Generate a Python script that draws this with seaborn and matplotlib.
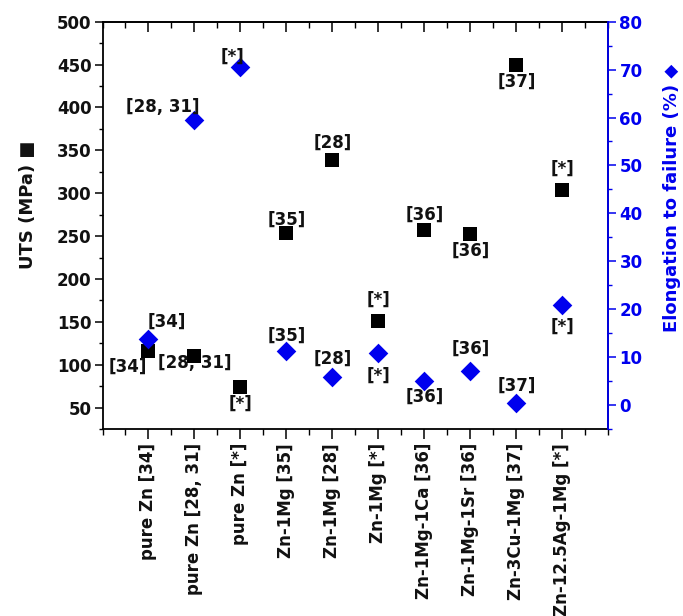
import numpy as np
import pandas as pd
import matplotlib
matplotlib.use("Agg")
import matplotlib.pyplot as plt
from matplotlib.ticker import MultipleLocator, NullFormatter
import seaborn as sns

categories = ["pure Zn [34]", "pure Zn [28, 31]", "pure Zn [*]", "Zn-1Mg [35]",
              "Zn-1Mg [28]", "Zn-1Mg [*]", "Zn-1Mg-1Ca [36]", "Zn-1Mg-1Sr [36]",
              "Zn-3Cu-1Mg [37]", "Zn-12.5Ag-1Mg [*]"]
uts = [116, 110, 74, 254, 339, 151, 257, 252, 450, 304]
elong = [13.7, 59.5, 70.6, 11.3, 5.8, 10.9, 5.1, 7.2, 0.5, 20.8]
uts_refs = ["[34]", "[28, 31]", "[*]", "[35]", "[28]", "[*]", "[36]", "[36]", "[37]", "[*]"]
elong_refs = ["[34]", "[28, 31]", "[*]", "[35]", "[28]", "[*]", "[36]", "[36]", "[37]", "[*]"]

# label offsets in pixels (dx, dy up)
uts_off = [(-21, -16), (0, -7), (0, -17), (0, 13), (0, 17), (0, 21), (0, 15), (0, -16), (0, -17), (0, 21)]
el_off = [(18, 18), (-32, 13), (-8, 10), (0, 15), (0, 18), (0, -23), (0, -16), (0, 22), (0, 17), (0, -21)]

sns.set_style("ticks")
plt.rcParams['font.family'] = ['DejaVu Sans']
plt.rcParams['font.weight'] = 'bold'
plt.rcParams['text.color'] = 'black'
plt.rcParams['xtick.color'] = 'black'
plt.rcParams['ytick.color'] = 'black'
plt.rcParams['axes.labelcolor'] = 'black'

BLUE = "#0000ee"
TXT = "#111111"
df = pd.DataFrame({"cat": categories, "uts": uts, "elong": elong})

fig = plt.figure(figsize=(6.83, 6.16), dpi=100)
L, R, B, T = 102.5 / 683, 608.3 / 683, (616 - 429) / 616, (616 - 21.7) / 616
ax = fig.add_axes([L, B, R - L, T - B])
ax2 = ax.twinx()

sns.scatterplot(data=df, x="cat", y="uts", marker="s", s=88, color="black",
                edgecolor="black", linewidth=0, ax=ax, zorder=3)
sns.scatterplot(data=df, x="cat", y="elong", marker="D", s=100, color=BLUE,
                edgecolor=BLUE, linewidth=0, ax=ax2, zorder=3)

for i, (v, t, (dx, dy)) in enumerate(zip(uts, uts_refs, uts_off)):
    ax.annotate(t, (i, v), xytext=(dx, dy), textcoords="offset pixels",
                ha="center", va="center", fontsize=12, fontweight="bold", color=TXT)
for i, (v, t, (dx, dy)) in enumerate(zip(elong, elong_refs, el_off)):
    ax2.annotate(t, (i, v), xytext=(dx, dy), textcoords="offset pixels",
                 ha="center", va="center", fontsize=12, fontweight="bold", color=TXT)

ax.set_xlim(-1, 10)
ax.set_ylim(25, 500)
ax2.set_ylim(-5, 80)
ax.set_xticks(range(len(categories)))
ax.set_xticklabels(categories, rotation=90, fontsize=12, fontweight="bold", color=TXT)
ax.xaxis.set_minor_locator(MultipleLocator(0.5))
ax.set_yticks(range(50, 501, 50))
ax.yaxis.set_minor_locator(MultipleLocator(25))
ax2.set_yticks(range(0, 81, 10))
ax2.yaxis.set_minor_locator(MultipleLocator(5))

for lab in ax.get_yticklabels():
    lab.set_fontweight("bold")
    lab.set_fontsize(12)
    lab.set_color(TXT)
for lab in ax2.get_yticklabels():
    lab.set_fontweight("bold")
    lab.set_fontsize(12)
    lab.set_color(BLUE)

ax.set_xlabel("")
ax.tick_params(axis="x", which="major", direction="out", length=7, width=1.1, top=False, pad=3)
ax.tick_params(axis="x", which="minor", direction="out", length=4, width=1.0, top=False)
ax.tick_params(axis="y", which="major", direction="out", length=6, width=1.1, pad=2)
ax.tick_params(axis="y", which="minor", direction="out", length=3, width=1.0)
ax2.tick_params(axis="y", which="major", direction="out", length=6, width=1.1, colors=BLUE, pad=2)
ax2.tick_params(axis="y", which="minor", direction="out", length=3, width=1.0, colors=BLUE)

# top axis: ticks pointing inward, no labels
top = ax.secondary_xaxis("top")
top.set_xticks(range(len(categories)))
top.xaxis.set_minor_locator(MultipleLocator(0.5))
top.xaxis.set_major_formatter(NullFormatter())
top.tick_params(axis="x", which="major", direction="in", length=7, width=1.1, color="black")
top.tick_params(axis="x", which="minor", direction="in", length=4, width=1.0, color="black")
top.spines["top"].set_linewidth(1.3)

for sp in ax.spines.values():
    sp.set_visible(True)
    sp.set_linewidth(1.3)
    sp.set_color("black")
for name, sp in ax2.spines.items():
    sp.set_visible(name == "right")
ax2.spines["right"].set_color(BLUE)
ax2.spines["right"].set_linewidth(1.3)

ax.set_ylabel("UTS (MPa) \u25A0", fontsize=13, fontweight="bold", color=TXT,
              family=["DejaVu Sans"])
ax.yaxis.set_label_coords(-0.130, 0.55)
ax2.set_ylabel("Elongation to failure (%) \u25C6", fontsize=13, fontweight="bold",
               color=BLUE, rotation=90, family=["DejaVu Sans"])
ax2.yaxis.set_label_coords(1.108, 0.567)

fig.savefig("out.png", dpi=100)
